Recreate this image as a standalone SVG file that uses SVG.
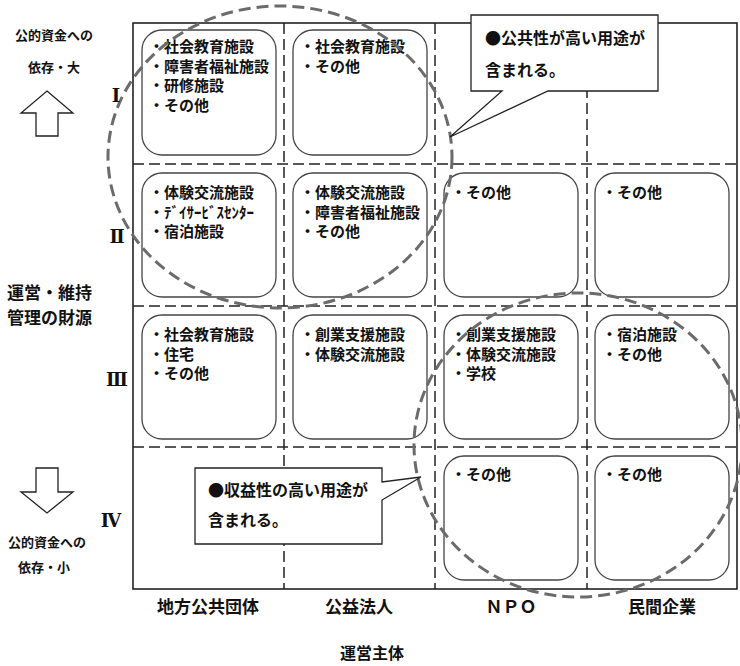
<svg xmlns="http://www.w3.org/2000/svg" width="740" height="666" viewBox="0 0 740 666">
<style>
text{font-family:"Noto Sans CJK JP","Noto Sans CJK SC",sans-serif;font-weight:bold;fill:#111}
.box{fill:#fff;stroke:#444;stroke-width:1.3}
.bt{font-size:15px}
.frame{fill:none;stroke:#222;stroke-width:1.6}
.grid{fill:none;stroke:#222;stroke-width:1.5;stroke-dasharray:11 5}
.ell{fill:none;stroke:#6b6b6b;stroke-width:3;stroke-dasharray:12 6}
.call{fill:#fff;stroke:#222;stroke-width:1.3;stroke-linejoin:miter}
.arr{fill:#fff;stroke:#222;stroke-width:1.3}
.rn{font-family:"DejaVu Serif","Liberation Serif",serif;font-size:18px;text-anchor:middle}
.lab{font-size:17px;text-anchor:middle}
.sm{font-size:13px;text-anchor:middle}
.ct{font-size:16px}
</style>
<rect width="740" height="666" fill="#fff"/>
<g id="grid">
<line class="grid" x1="133" y1="164" x2="737" y2="164"/>
<line class="grid" x1="133" y1="306" x2="737" y2="306"/>
<line class="grid" x1="133" y1="447" x2="737" y2="447"/>
<line class="grid" x1="284" y1="23" x2="284" y2="589"/>
<line class="grid" x1="435" y1="23" x2="435" y2="589"/>
<line class="grid" x1="587" y1="23" x2="587" y2="589"/>
<rect class="frame" x="133" y="23" width="604" height="566"/>
</g>
<g id="box-1-1"><rect class="box" x="142" y="30" width="134" height="125" rx="20"/>
<text class="bt" x="149" y="52"><tspan x="149">・社会教育施設</tspan><tspan x="149" dy="19.5">・障害者福祉施設</tspan><tspan x="149" dy="19.5">・研修施設</tspan><tspan x="149" dy="19.5">・その他</tspan></text></g>
<g id="box-1-2"><rect class="box" x="293" y="30" width="134" height="125" rx="20"/>
<text class="bt" x="300" y="52"><tspan x="300">・社会教育施設</tspan><tspan x="300" dy="19.5">・その他</tspan></text></g>
<g id="box-2-1"><rect class="box" x="142" y="173" width="134" height="124" rx="20"/>
<text class="bt" x="149" y="198"><tspan x="149">・体験交流施設</tspan><tspan x="149" dy="19.5">・ﾃﾞｲｻｰﾋﾞｽｾﾝﾀｰ</tspan><tspan x="149" dy="19.5">・宿泊施設</tspan></text></g>
<g id="box-2-2"><rect class="box" x="293" y="173" width="134" height="124" rx="20"/>
<text class="bt" x="300" y="198"><tspan x="300">・体験交流施設</tspan><tspan x="300" dy="19.5">・障害者福祉施設</tspan><tspan x="300" dy="19.5">・その他</tspan></text></g>
<g id="box-2-3"><rect class="box" x="444" y="173" width="134" height="124" rx="20"/>
<text class="bt" x="451" y="198">・その他</text></g>
<g id="box-2-4"><rect class="box" x="595" y="173" width="134" height="124" rx="20"/>
<text class="bt" x="602" y="198">・その他</text></g>
<g id="box-3-1"><rect class="box" x="142" y="315" width="134" height="124" rx="20"/>
<text class="bt" x="149" y="340"><tspan x="149">・社会教育施設</tspan><tspan x="149" dy="19.5">・住宅</tspan><tspan x="149" dy="19.5">・その他</tspan></text></g>
<g id="box-3-2"><rect class="box" x="293" y="315" width="134" height="124" rx="20"/>
<text class="bt" x="300" y="340"><tspan x="300">・創業支援施設</tspan><tspan x="300" dy="19.5">・体験交流施設</tspan></text></g>
<g id="box-3-3"><rect class="box" x="444" y="315" width="134" height="124" rx="20"/>
<text class="bt" x="451" y="340"><tspan x="451">・創業支援施設</tspan><tspan x="451" dy="19.5">・体験交流施設</tspan><tspan x="451" dy="19.5">・学校</tspan></text></g>
<g id="box-3-4"><rect class="box" x="595" y="315" width="134" height="124" rx="20"/>
<text class="bt" x="602" y="340"><tspan x="602">・宿泊施設</tspan><tspan x="602" dy="19.5">・その他</tspan></text></g>
<g id="box-4-3"><rect class="box" x="444" y="456" width="134" height="124" rx="20"/>
<text class="bt" x="451" y="480">・その他</text></g>
<g id="box-4-4"><rect class="box" x="595" y="456" width="134" height="124" rx="20"/>
<text class="bt" x="602" y="480">・その他</text></g>
<g id="connectors">
<ellipse class="ell" cx="280" cy="157" rx="172" ry="151"/>
<ellipse class="ell" cx="578" cy="445" rx="164" ry="152"/>
</g>
<g id="callout-public"><path class="call" d="M471,15 H658 V91 H548 L450,137 L502,91 H471 Z"/>
<text class="ct" x="485" y="44">●公共性が高い用途が</text>
<text class="ct" x="485" y="76">含まれる。</text></g>
<g id="callout-profit"><path class="call" d="M195,468 H382 V482 L421,477 L382,500 V544 H195 Z"/>
<text class="ct" x="208" y="496">●収益性の高い用途が</text>
<text class="ct" x="208" y="526">含まれる。</text></g>
<g id="axis-left">
<text class="sm" x="54" y="40">公的資金への</text>
<text class="sm" x="54" y="72">依存・大</text>
<path class="arr" d="M47,91 L73,113 H58 V136 H36 V113 H21 Z"/>
<path class="arr" d="M36,468 H58 V492 H73 L47,513 L21,492 H36 Z"/>
<text class="sm" x="47" y="547">公的資金への</text>
<text class="sm" x="44" y="572">依存・小</text>
<text x="7" y="299" style="font-size:17px">運営・維持</text>
<text x="7" y="324" style="font-size:17px">管理の財源</text>
<text class="rn" x="116" y="102">Ⅰ</text>
<text class="rn" x="117" y="243">Ⅱ</text>
<text class="rn" x="117" y="386">Ⅲ</text>
<text class="rn" x="111" y="527">Ⅳ</text>
</g>
<g id="axis-bottom">
<text class="lab" x="208" y="613">地方公共団体</text>
<text class="lab" x="359" y="613">公益法人</text>
<text class="lab" x="511" y="613">ＮＰＯ</text>
<text class="lab" x="662" y="613">民間企業</text>
<text class="lab" x="372" y="659" style="font-size:16px">運営主体</text>
</g>
</svg>
